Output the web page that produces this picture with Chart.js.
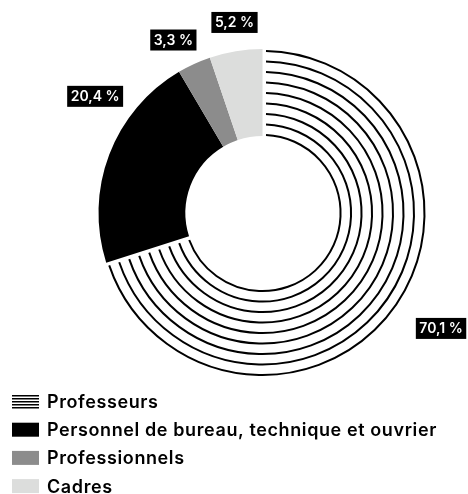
<!DOCTYPE html>
<html>
<head>
<meta charset="utf-8">
<script src="https://cdn.jsdelivr.net/npm/chart.js@4/dist/chart.umd.min.js"></script>
<style>
  html, body { margin: 0; padding: 0; background: #fff; }
  #chart { display: block; }
</style>
</head>
<body>
<canvas id="chart" width="468" height="494"></canvas>
<script>
const categories = ['Professeurs', 'Personnel de bureau, technique et ouvrier', 'Professionnels', 'Cadres'];
// slice sizes as measured on the ring (they add up to 100)
const shares = [70.1, 21.4, 3.3, 5.2];
// label texts as printed on the chart
const shareLabels = ['70,1 %', '20,4 %', '3,3 %', '5,2 %'];

const colors = ['rgba(0,0,0,0)', '#000000', '#8c8c8c', '#dcdddc'];
const FONT = 'Inter, "Noto Sans", sans-serif';

// label nudges (degrees off the slice middle, px past the outer edge)
const labelShift = [-3.3, 14, -2.6, 1];
const labelGap = [48.6, 40, 30.6, 28.6];

// Professeurs slice: concentric lines instead of a fill
const ringLines = {
  id: 'ringLines',
  afterDatasetsDraw(chart) {
    const arc = chart.getDatasetMeta(0).data[0];
    const { x, y, startAngle, endAngle, innerRadius, outerRadius } = arc;
    const ctx = chart.ctx;
    const count = 9;
    const gap = 3.5;
    const r0 = innerRadius + 1;
    const r1 = outerRadius - 2;
    ctx.save();
    ctx.strokeStyle = '#000';
    ctx.lineWidth = 2;
    for (let i = 0; i < count; i++) {
      const r = r0 + (r1 - r0) * i / (count - 1);
      const off = gap / r;
      ctx.beginPath();
      ctx.arc(x, y, r, startAngle + off, endAngle - off);
      ctx.stroke();
    }
    ctx.restore();
  }
};

// black boxes with the percentages
const boxLabels = {
  id: 'boxLabels',
  afterDraw(chart) {
    const ctx = chart.ctx;
    const meta = chart.getDatasetMeta(0);
    ctx.save();
    ctx.font = '600 14px ' + FONT;
    ctx.textAlign = 'center';
    ctx.textBaseline = 'middle';
    meta.data.forEach((arc, i) => {
      const mid = (arc.startAngle + arc.endAngle) / 2 + labelShift[i] * Math.PI / 180;
      const r = arc.outerRadius + labelGap[i];
      const cx = arc.x + Math.cos(mid) * r;
      const cy = arc.y + Math.sin(mid) * r;
      const w = ctx.measureText(shareLabels[i]).width + 7;
      const h = 21;
      ctx.fillStyle = '#000';
      ctx.fillRect(cx - w / 2, cy - h / 2, w, h);
      ctx.fillStyle = '#fff';
      ctx.fillText(shareLabels[i], cx, cy + 0.5);
    });
    ctx.restore();
  }
};

// legend stacked at the bottom left
const stackLegend = {
  id: 'stackLegend',
  afterDraw(chart) {
    const ctx = chart.ctx;
    const items = Chart.overrides.doughnut.plugins.legend.labels.generateLabels(chart);
    ctx.save();
    ctx.font = '600 18px ' + FONT;
    ctx.letterSpacing = '0.6px';
    ctx.textBaseline = 'middle';
    items.forEach((item, i) => {
      const cy = 401.5 + i * 28.2;
      const bx = 12, bw = 27, bh = 14;
      if (i === 0) {
        ctx.fillStyle = '#000';
        for (let k = 0; k < 5; k++) {
          ctx.fillRect(bx, cy - bh / 2 + 0.5 + k * 3, bw, 1.5);
        }
      } else {
        ctx.fillStyle = item.fillStyle;
        ctx.fillRect(bx, cy - bh / 2, bw, bh);
      }
      ctx.fillStyle = '#000';
      ctx.fillText(item.text, 47, cy + 1);
    });
    ctx.restore();
  }
};

const ctx = document.querySelector('#chart').getContext('2d');
const chart = new Chart(ctx, {
  type: 'doughnut',
  data: {
    labels: categories,
    datasets: [{
      data: shares,
      backgroundColor: colors,
      borderWidth: 0
    }]
  },
  options: {
    responsive: false,
    animation: false,
    cutout: '47%',
    layout: {
      padding: { top: 49, bottom: 117, left: 57, right: 0 }
    },
    plugins: {
      legend: { display: false },
      tooltip: { enabled: false }
    }
  },
  plugins: [ringLines, boxLabels, stackLegend]
});
</script>
</body>
</html>
